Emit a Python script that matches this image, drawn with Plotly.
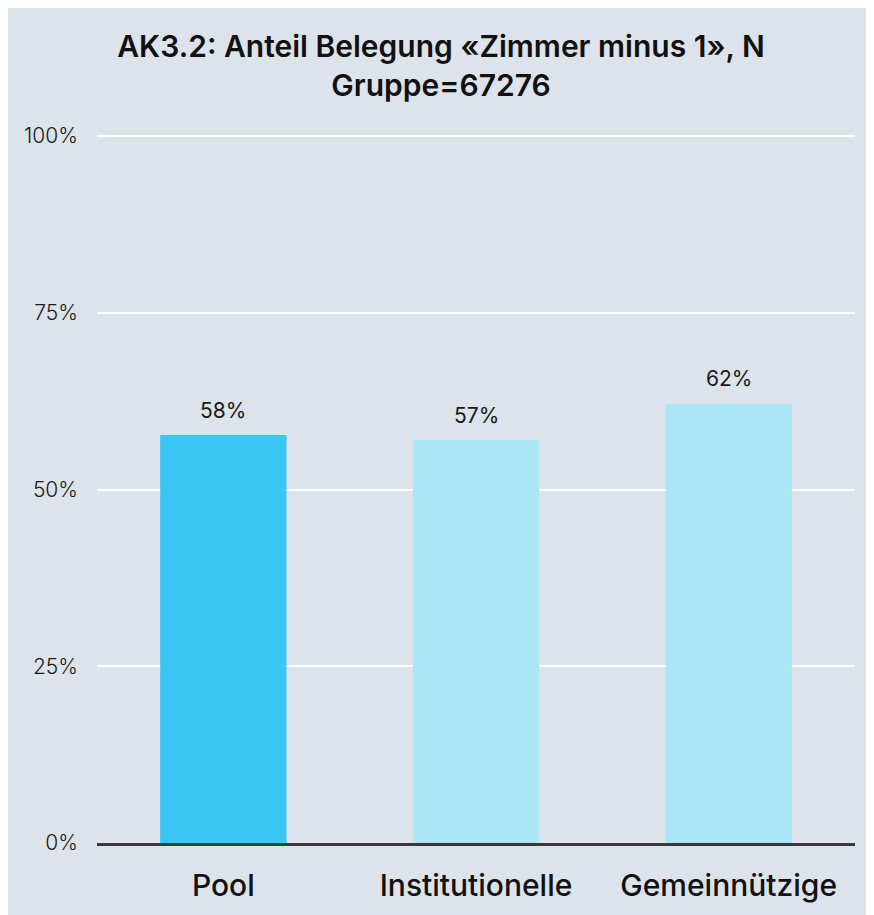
import plotly.graph_objects as go

categories = ["Pool", "Institutionelle", "Gemeinnützige"]
values = [57.7, 57.0, 62.1]
bar_colors = ["#3ac6f2", "#ade6f7", "#ade6f7"]
tick_vals = [0, 25, 50, 75, 100]
tick_text = ["0%", "25%", "50%", "75%", "100%"]
title_text = "AK3.2: Anteil Belegung «Zimmer minus 1», N<br>Gruppe=67276"

BG = "#dce3ea"
FONT = "Inter"

fig = go.Figure(
    go.Bar(
        x=categories,
        y=values,
        marker=dict(color=bar_colors, line=dict(width=0)),
        width=0.5,
        cliponaxis=False,
        hoverinfo="skip",
    )
)

for c, v in zip(categories, values):
    fig.add_annotation(
        x=c, y=v, text=f"{round(v)}%", showarrow=False,
        yanchor="middle", yshift=25,
        font=dict(family=FONT, size=21, color="#1a1a1a"),
    )

fig.update_layout(
    width=866,
    height=907,
    paper_bgcolor=BG,
    plot_bgcolor=BG,
    margin=dict(l=89, r=19, t=127, b=72, autoexpand=False),
    title=dict(
        text=title_text,
        x=0.5,
        xanchor="center",
        xref="container",
        yref="container",
        y=1 - 49 / 907,
        yanchor="middle",
        font=dict(family=FONT, size=30, color="#111111", weight=600),
    ),
    showlegend=False,
)

fig.update_yaxes(
    range=[0, 100.15],
    tickvals=tick_vals,
    ticktext=tick_text,
    showgrid=True,
    gridcolor="#ffffff",
    gridwidth=2,
    zeroline=False,
    showline=False,
    ticks="",
    automargin=False,
    ticklabelstandoff=18,
    tickfont=dict(family=FONT, size=21, color="#1a1a1a", weight=300),
)

fig.update_xaxes(
    showline=True,
    linecolor="#3a3a3a",
    linewidth=3,
    ticks="",
    automargin=False,
    ticklabelstandoff=14,
    tickfont=dict(family=FONT, size=30, color="#111111", weight=500),
)

fig.write_html("out.html")
